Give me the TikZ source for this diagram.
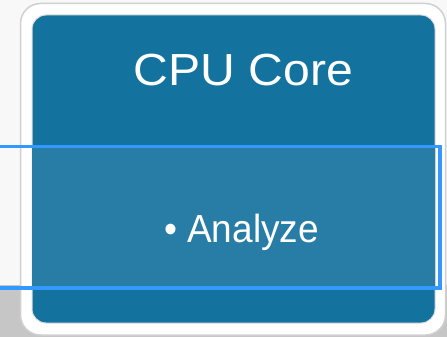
\documentclass[tikz,border=0pt]{standalone}
\usepackage{fontspec}
\setmainfont{Liberation Sans}
\definecolor{bgtop}{HTML}{F8F8F8}
\definecolor{bgbot}{HTML}{C6C6C6}
\definecolor{coreblue}{HTML}{13729E}
\definecolor{hlfill}{HTML}{277DA5}
\definecolor{hlline}{HTML}{3399FF}
\definecolor{frameedge}{HTML}{D0D0D0}
\tikzset{
  framebox/.style={fill=white, draw=frameedge, line width=1.5pt, rounded corners=20pt},
  corebox/.style={fill=coreblue, draw=black!12, line width=1pt, rounded corners=14pt},
  hlbox/.style={draw=hlline, line width=3.5pt},
  titletext/.style={text=white, inner sep=0pt, anchor=base, font=\fontsize{45}{54}\selectfont},
  itemtext/.style={text=white, inner sep=0pt, anchor=base, font=\fontsize{37}{44}\selectfont}
}
\begin{document}
\begin{tikzpicture}[x=1pt,y=-1pt]
\useasboundingbox (0,0) rectangle (447,337);
% background
\fill[bgtop] (0,0) rectangle (447,285);
\fill[bgbot] (0,285) rectangle (447,337);
% outer white frame
\path[framebox] (20.5,3.5) rectangle (445.5,335);
% core
\path[corebox] (32,15) rectangle (435,323);
% highlight fill inside core
\begin{scope}
  \clip[rounded corners=14pt] (32,15) rectangle (435,323);
  \fill[hlfill] (0,146.5) rectangle (440,288);
\end{scope}
% highlight border
\draw[hlbox] (-5,146.5) rectangle (440,288);
% texts
\node[titletext, xscale=1.07] (title) at (243.5,85) {CPU Core};
\node[itemtext, yscale=1.06] (item) at (241.5,242) {\textbullet\ Analyze};
\end{tikzpicture}
\end{document}
